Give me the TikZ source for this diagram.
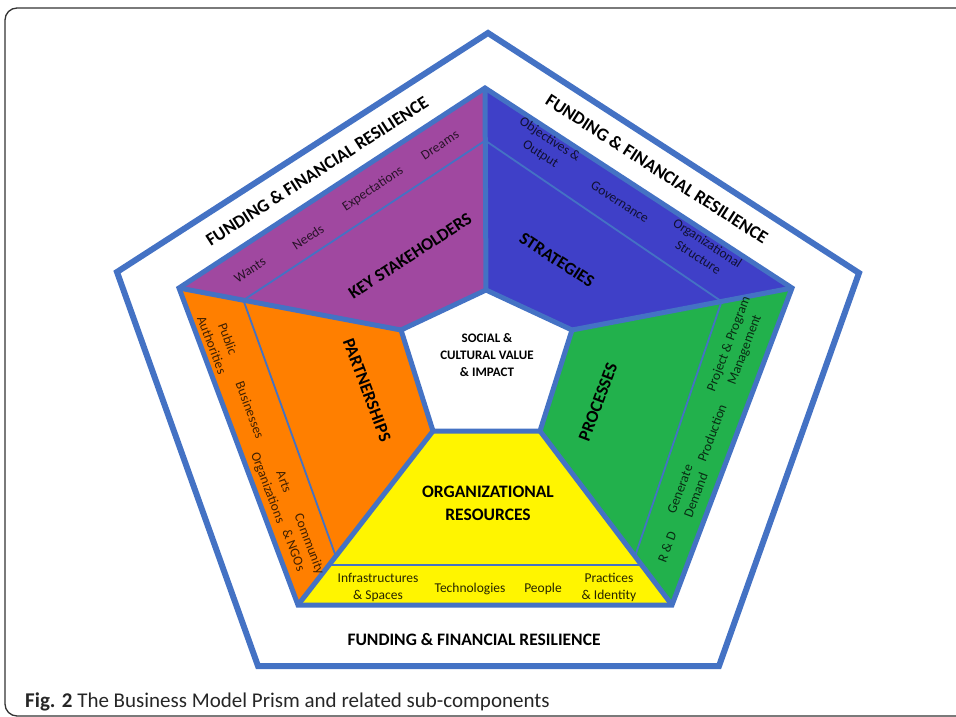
\documentclass[tikz,border=0pt]{standalone}
\usepackage{fontspec}
\setmainfont{Carlito}
\usetikzlibrary{calc}
\definecolor{lineblue}{HTML}{4472C4}
\definecolor{cpurple}{HTML}{A048A0}
\definecolor{cblue}{HTML}{3F40C8}
\definecolor{corange}{HTML}{FF7F00}
\definecolor{cgreen}{HTML}{22B14C}
\definecolor{cyellow}{HTML}{FFF500}
\begin{document}
\begin{tikzpicture}[x=1pt,y=-1pt,
  thickline/.style={draw=lineblue,line width=5pt,line join=miter},
  outerline/.style={draw=lineblue,line width=6pt,line join=miter},
  divider/.style={draw=lineblue,line width=1.8pt},
  big/.style={font=\fontsize{17.5}{23}\selectfont\bfseries,align=center,inner sep=0pt},
  band/.style={font=\fontsize{18}{20}\selectfont\bfseries,inner sep=0pt},
  small/.style={font=\fontsize{13.5}{17}\selectfont,align=center,inner sep=0pt},
  centre/.style={font=\fontsize{13}{17}\selectfont\bfseries,align=center,inner sep=0pt}]
\useasboundingbox (0,0) rectangle (956,717);
% frame
\draw[line width=1.3pt,draw=black!80,rounded corners=12pt] (980,8) -- (5,8) -- (5,716) -- (980,716);
% outer pentagon
\coordinate (A) at (488,33);
\coordinate (B) at (859,273);
\coordinate (C) at (719,666);
\coordinate (D) at (258,666);
\coordinate (E) at (117,272);
% coloured pentagon
\coordinate (P1) at (485,88);
\coordinate (P2) at (792,288);
\coordinate (P3) at (672,605);
\coordinate (P4) at (298,605);
\coordinate (P5) at (179,288);
% centre pentagon
\coordinate (Q1) at (486,290);
\coordinate (Q2) at (572,330);
\coordinate (Q3) at (540,431);
\coordinate (Q4) at (433,431);
\coordinate (Q5) at (401,330);
\draw[outerline] (A) -- (B) -- (C) -- (D) -- (E) -- cycle;
% fills
\fill[cpurple] (P5) -- (P1) -- (Q1) -- (Q5) -- cycle;
\fill[cblue] (P1) -- (P2) -- (Q2) -- (Q1) -- cycle;
\fill[cgreen] (P2) -- (P3) -- (Q3) -- (Q2) -- cycle;
\fill[cyellow] (P3) -- (P4) -- (Q4) -- (Q3) -- cycle;
\fill[corange] (P4) -- (P5) -- (Q5) -- (Q4) -- cycle;
% dividers
\coordinate (d1) at ($(P5)!0.29!(Q5)$);
\coordinate (d2) at ($(P1)!0.26!(Q1)$);
\coordinate (d3) at ($(P2)!0.32!(Q2)$);
\coordinate (d4) at ($(P3)!0.28!(Q3)$);
\coordinate (d5) at ($(P3)!0.23!(Q3)$);
\coordinate (d6) at ($(P4)!0.23!(Q4)$);
\coordinate (d7) at ($(P4)!0.28!(Q4)$);
\draw[divider] (d1) -- (d2);
\draw[divider] (d2) -- (d3);
\draw[divider] (d3) -- (d4);
\draw[divider] (d5) -- (d6);
\draw[divider] (d7) -- (d1);
% thick boundaries
\draw[thickline] (P1) -- (P2) -- (P3) -- (P4) -- (P5) -- cycle;
\draw[thickline] (Q1) -- (Q2) -- (Q3) -- (Q4) -- (Q5) -- cycle;
\draw[thickline] (P1) -- (Q1);
\draw[thickline] (P2) -- (Q2);
\draw[thickline] (P3) -- (Q3);
\draw[thickline] (P4) -- (Q4);
\draw[thickline] (P5) -- (Q5);
% band texts
\node[band,rotate=32.8] (f1) at (317,171) {FUNDING \& FINANCIAL RESILIENCE};
\node[band,rotate=-32.8] (f2) at (657,169) {FUNDING \& FINANCIAL RESILIENCE};
\node[band,font=\fontsize{17.5}{20}\selectfont\bfseries] (f3) at (474,640) {FUNDING \& FINANCIAL RESILIENCE};
% centre
\node[centre] (ctr) at (487,355) {SOCIAL \&\\CULTURAL VALUE\\\& IMPACT};
% purple
\node[big,rotate=33.2] (ks) at (410,256) {KEY STAKEHOLDERS};
\begin{scope}[every node/.append style={small,rotate=33.2,text=black!75!cpurple}]
\node (w1) at (250,270) {Wants};
\node (w2) at (308,237) {Needs};
\node (w3) at (373,189) {Expectations};
\node (w4) at (440,145) {Dreams};
\end{scope}
% blue
\node[big,rotate=-33.1] (st) at (557,260) {STRATEGIES};
\begin{scope}[every node/.append style={small,rotate=-33.1,text=black!75!cblue}]
\node (s1) at (545,147) {Objectives \&\\Output};
\node (s2) at (620,202) {Governance};
\node (s3) at (703,250) {Organizational\\Structure};
\end{scope}
% orange
\node[big,rotate=-69.4] (pa) at (367,390) {PARTNERSHIPS};
\begin{scope}[every node/.append style={small,rotate=-69.4,text=black!75!corange}]
\node (o1) at (220,342) {Public\\Authorities};
\node (o2) at (250,410) {Businesses};
\node (o3) at (275,485) {Arts\\Organizations};
\node (o4) at (302,547) {Community\\\& NGOs};
\end{scope}
% green
\node[big,rotate=69.3] (pr) at (598,402) {PROCESSES};
\begin{scope}[every node/.append style={small,rotate=69.3,text=black!75!cgreen}]
\node (g1) at (737,347) {Project \& Program\\Management};
\node (g2) at (712,433) {Production};
\node (g3) at (688,492) {Generate\\Demand};
\node (g4) at (667,547) {R \& D};
\end{scope}
% yellow
\node[big] (or) at (488,503) {ORGANIZATIONAL\\RESOURCES};
\begin{scope}[every node/.append style={small,text=black!85!cyellow}]
\node (y1) at (378,587) {Infrastructures\\\& Spaces};
\node (y2) at (470,589) {Technologies};
\node (y3) at (543,589) {People};
\node (y4) at (609,587) {Practices\\\& Identity};
\end{scope}
% caption
\node[anchor=base west,inner sep=0pt,font=\fontsize{21}{23}\selectfont,text=black!85] (cap) at (25,707) {\textbf{Fig. 2} The Business Model Prism and related sub-components};
\end{tikzpicture}
\end{document}
